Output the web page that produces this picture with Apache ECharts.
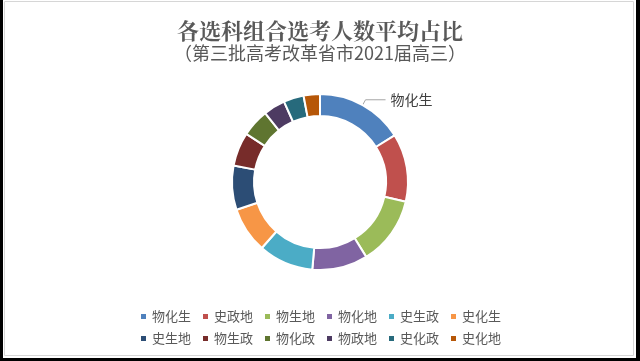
<!DOCTYPE html>
<html>
<head>
<meta charset="utf-8">
<script src="https://cdn.jsdelivr.net/npm/echarts@6/dist/echarts.min.js"></script>
<style>
html,body{margin:0;padding:0;background:#000;}
#chart{width:640px;height:361px;}
</style>
</head>
<body>
<div id="chart"></div>
<script>
var categories = ['物化生','史政地','物生地','物化地','史生政','史化生','史生地','物生政','物化政','物政地','史化政','史化地'];
var shares = [16.1, 12.5, 12.6, 10.2, 10.1, 8.4, 8.1, 6.2, 5.1, 4.0, 3.7, 3.0];
var colors = ['#4F81BD','#C0504D','#9BBB59','#8064A2','#4BACC6','#F79646','#2C4D75','#772C2A','#5F7530','#4D3B62','#276A7C','#B65708'];
var titleText = '各选科组合选考人数平均占比';
var subtitleText = '（第三批高考改革省市2021届高三）';
var labeledCategory = '物化生';

var chart = echarts.init(document.getElementById('chart'), null, {renderer:'canvas'});
var data = categories.map(function(c, i){
  return {
    name: c,
    value: shares[i],
    label: {show: c === labeledCategory},
    labelLine: {show: c === labeledCategory}
  };
});
var font = '"Noto Sans CJK SC", "Noto Sans", sans-serif';
chart.setOption({
  backgroundColor: 'transparent',
  color: colors,
  animation: false,
  graphic: [
    {type:'rect', z:-10, shape:{x:3, y:0, width:633, height:358}, style:{fill:'#ffffff'}},
    {type:'rect', z:-9, shape:{x:4.5, y:1.5, width:629, height:354}, style:{fill:'none', stroke:'#d6d6d6', lineWidth:1}}
  ],
  title: [
    {text: titleText, left:'center', top:15, textStyle:{fontFamily:'"Noto Serif CJK SC", "Noto Sans CJK SC", serif', fontSize:22, fontWeight:'bold', color:'#595959'}},
    {text: subtitleText, left:'center', top:39, textStyle:{fontFamily:font, fontSize:18, fontWeight:'normal', color:'#595959'}}
  ],
  legend: [
    {data: categories.slice(0,6), left:'center', top:305, itemWidth:7, itemHeight:7, itemGap:10, icon:'rect',
     textStyle:{fontFamily:font, fontSize:13, color:'#595959'}},
    {data: categories.slice(6), left:'center', top:327, itemWidth:7, itemHeight:7, itemGap:10, icon:'rect',
     textStyle:{fontFamily:font, fontSize:13, color:'#595959'}}
  ],
  series: [{
    type:'pie',
    center:[320,182],
    radius:[66,88],
    startAngle:90,
    clockwise:true,
    avoidLabelOverlap:false,
    itemStyle:{borderColor:'#ffffff', borderWidth:2},
    label:{position:'outside', fontFamily:font, fontSize:14, color:'#404040', formatter:'{b}'},
    labelLine:{length:6, length2:20, lineStyle:{color:'#a6a6a6', width:1}},
    data: data
  }]
});
</script>
</body>
</html>
